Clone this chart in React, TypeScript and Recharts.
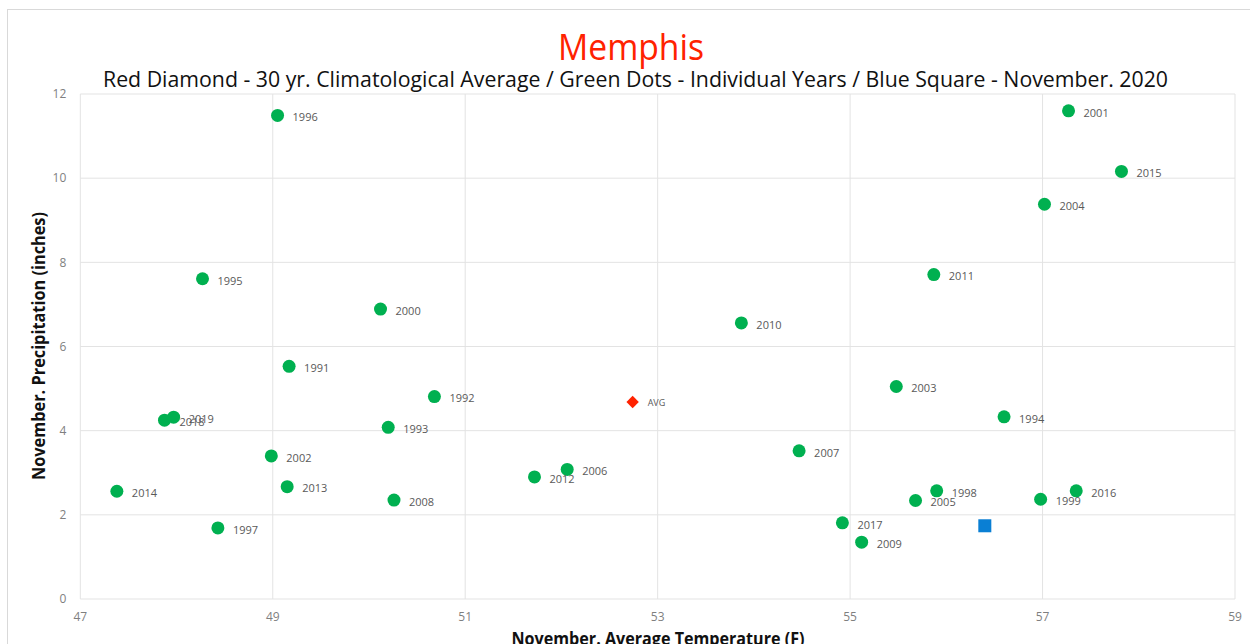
import { ScatterChart, Scatter, XAxis, YAxis, CartesianGrid } from "recharts";

const FONT = "'Open Sans', 'Noto Sans', sans-serif";

// individual Novembers, 1991-2019
const years = [
  1991, 1992, 1993, 1994, 1995, 1996, 1997, 1998, 1999, 2000,
  2001, 2002, 2003, 2004, 2005, 2006, 2007, 2008, 2009, 2010,
  2011, 2012, 2013, 2014, 2015, 2016, 2017, 2018, 2019,
];
const temps = [
  49.17, 50.68, 50.2, 56.6, 48.27, 49.05, 48.43, 55.9, 56.98, 50.12,
  57.27, 48.985, 55.48, 57.02, 55.68, 52.06, 54.47, 50.26, 55.12, 53.87,
  55.87, 51.72, 49.15, 47.38, 57.82, 57.35, 54.92, 47.875, 47.97,
];
const precips = [
  5.53, 4.81, 4.08, 4.33, 7.61, 11.49, 1.69, 2.57, 2.37, 6.89,
  11.6, 3.4, 5.05, 9.38, 2.34, 3.08, 3.52, 2.35, 1.35, 6.56,
  7.71, 2.9, 2.67, 2.56, 10.16, 2.57, 1.81, 4.25, 4.32,
];

// 30 yr climatological average and November 2020
const avgPoint = [{ x: 52.74, y: 4.68, label: "AVG" }];
const current = [{ x: 56.4, y: 1.74 }];

const xTicks = [47, 49, 51, 53, 55, 57, 59];
const yTicks = [0, 2, 4, 6, 8, 10, 12];

const yearData = years.map((yr, i) => ({ x: temps[i], y: precips[i], year: yr }));

const GreenDot = (props: any) => {
  const { cx, cy, payload } = props;
  return (
    <g>
      <circle cx={cx} cy={cy} r={6.5} fill="#00b050" />
      <text x={cx + 15} y={cy + 2} dy="0.35em" fontSize={11} fill="#595959" fontFamily={FONT}>
        {payload.year}
      </text>
    </g>
  );
};

const RedDiamond = (props: any) => {
  const { cx, cy, payload } = props;
  const s = 6.2;
  return (
    <g>
      <path d={`M${cx},${cy - s}L${cx + s},${cy}L${cx},${cy + s}L${cx - s},${cy}Z`} fill="#ff2200" />
      <text x={cx + 15} y={cy + 1} dy="0.35em" fontSize={9} fill="#595959" fontFamily={FONT}>
        {payload.label}
      </text>
    </g>
  );
};

const BlueSquare = (props: any) => {
  const { cx, cy } = props;
  return <rect x={cx - 6.5} y={cy - 6.5} width={13} height={13} fill="#0a7fd4" />;
};

export default function App() {
  const tick = { fontSize: 12, fill: "#7f7f7f", fontFamily: FONT };
  return (
    <div
      style={{
        position: "absolute",
        left: 0,
        top: 0,
        width: 1250,
        height: 644,
        overflow: "hidden",
        background: "#fff",
      }}
    >
      <div
        style={{
          position: "absolute",
          left: 7,
          top: 9,
          width: 1280,
          height: 700,
          border: "1px solid #d9d9d9",
        }}
      />
      <div style={{ position: "absolute", left: 0, top: 0 }}>
        <ScatterChart width={1250} height={644} margin={{ top: 94, right: 15, bottom: 15, left: 20 }}>
          <CartesianGrid stroke="#e3e3e3" />
          <XAxis
            type="number"
            dataKey="x"
            domain={[47, 59]}
            ticks={xTicks}
            height={30}
            axisLine={false}
            tickLine={false}
            tickMargin={7}
            tick={tick}
          />
          <YAxis
            type="number"
            dataKey="y"
            domain={[0, 12]}
            ticks={yTicks}
            width={60.3}
            axisLine={false}
            tickLine={false}
            tickMargin={8}
            tick={tick}
          />
          <Scatter data={yearData} shape={GreenDot} isAnimationActive={false} />
          <Scatter data={avgPoint} shape={RedDiamond} isAnimationActive={false} />
          <Scatter data={current} shape={BlueSquare} isAnimationActive={false} />
        </ScatterChart>
      </div>
      <svg
        width={1250}
        height={644}
        style={{ position: "absolute", left: 0, top: 0, pointerEvents: "none" }}
      >
        <text x={631} y={60} textAnchor="middle" fontSize={36} fill="#ff2200" fontFamily={FONT} textLength={146} lengthAdjust="spacingAndGlyphs">
          Memphis
        </text>
        <text x={635.5} y={87} textAnchor="middle" fontSize={22} fill="#111" fontFamily={FONT} textLength={1065} lengthAdjust="spacingAndGlyphs">
          Red Diamond - 30 yr. Climatological Average / Green Dots - Individual Years / Blue Square - November. 2020
        </text>
        <text
          transform="translate(45,346) rotate(-90)"
          textAnchor="middle"
          fontSize={17}
          fontWeight="bold"
          fill="#111"
          fontFamily={FONT}
          textLength={268}
          lengthAdjust="spacingAndGlyphs"
        >
          November. Precipitation (inches)
        </text>
        <text x={658} y={645} textAnchor="middle" fontSize={18} fontWeight="bold" fill="#111" fontFamily={FONT} textLength={293} lengthAdjust="spacingAndGlyphs">
          November. Average Temperature (F)
        </text>
      </svg>
    </div>
  );
}
